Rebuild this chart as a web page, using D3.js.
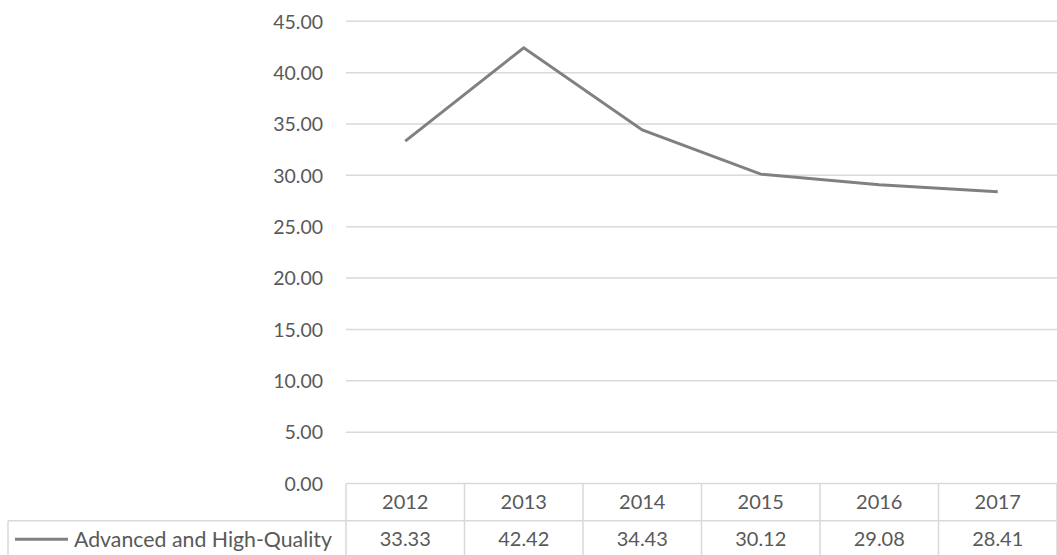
<!DOCTYPE html>
<html>
<head>
<meta charset="utf-8">
<script src="https://cdn.jsdelivr.net/npm/d3@7"></script>
<style>
  html, body { margin: 0; padding: 0; background: #fff; }
  svg { display: block; }
  text { font-family: Lato, "Open Sans", sans-serif; fill: #595959; }
</style>
</head>
<body>
<script>
// Series and labels
const years = ["2012", "2013", "2014", "2015", "2016", "2017"];
const seriesName = "Advanced and High-Quality";
const values = [33.33, 42.42, 34.43, 30.12, 29.08, 28.41];
const yTicks = [0, 5, 10, 15, 20, 25, 30, 35, 40, 45];

const W = 1057, H = 555;
const plotLeft = 346, plotRight = 1057, plotTop = 21.3, plotBottom = 483.5;
const rowH = 37.2;
const legendLeft = 8;

const svg = d3.select("body").append("svg")
  .attr("width", W).attr("height", H);

const x = d3.scaleBand().domain(years).range([plotLeft, plotRight]).paddingInner(0).paddingOuter(0);
const y = d3.scaleLinear().domain([0, 45]).range([plotBottom, plotTop]);

const fontSize = 20;
const gridColor = "#d9d9d9";

// Horizontal gridlines (the 0 line doubles as the table's top border)
svg.append("g").selectAll("line").data(yTicks).join("line")
  .attr("x1", plotLeft).attr("x2", plotRight)
  .attr("y1", d => y(d)).attr("y2", d => y(d))
  .attr("stroke", gridColor).attr("stroke-width", 1.5);

// Y axis labels
const yAxis = d3.axisLeft(y).tickValues(yTicks).tickFormat(d3.format(".2f")).tickSize(0).tickPadding(0);
const yG = svg.append("g").attr("transform", `translate(323,0)`).call(yAxis);
yG.select(".domain").remove();
yG.selectAll("text")
  .attr("font-size", 19.5)
  .attr("font-family", "Lato, 'Open Sans', sans-serif")
  .attr("fill", "#595959")
  .attr("dy", "0.35em");

// Data line
const line = d3.line()
  .x((d, i) => x(years[i]) + x.bandwidth() / 2)
  .y(d => y(d));
svg.append("path")
  .datum(values)
  .attr("d", line)
  .attr("fill", "none")
  .attr("stroke", "#808080")
  .attr("stroke-width", 3)
  .attr("stroke-linejoin", "miter");

// Data table
const table = svg.append("g");
const row1Bottom = plotBottom + rowH;
const row2Bottom = row1Bottom + rowH;

// Vertical cell borders
const edges = years.map(d => x(d)).concat([plotRight]);
table.selectAll("line.v").data(edges).join("line")
  .attr("class", "v")
  .attr("x1", d => d).attr("x2", d => d)
  .attr("y1", plotBottom).attr("y2", row2Bottom)
  .attr("stroke", gridColor).attr("stroke-width", 1.5);

// Legend cell left border
table.append("line")
  .attr("x1", legendLeft).attr("x2", legendLeft)
  .attr("y1", row1Bottom).attr("y2", row2Bottom)
  .attr("stroke", gridColor).attr("stroke-width", 1.5);

// Row separators
table.append("line")
  .attr("x1", legendLeft).attr("x2", plotRight)
  .attr("y1", row1Bottom).attr("y2", row1Bottom)
  .attr("stroke", gridColor).attr("stroke-width", 1.5);
table.append("line")
  .attr("x1", legendLeft).attr("x2", plotRight)
  .attr("y1", row2Bottom).attr("y2", row2Bottom)
  .attr("stroke", gridColor).attr("stroke-width", 1.5);

// Year headers
table.selectAll("text.year").data(years).join("text")
  .attr("class", "year")
  .attr("x", d => x(d) + x.bandwidth() / 2)
  .attr("y", (plotBottom + row1Bottom) / 2)
  .attr("dy", "0.35em")
  .attr("text-anchor", "middle")
  .attr("font-size", fontSize)
  .text(d => d);

// Values row
table.selectAll("text.val").data(values).join("text")
  .attr("class", "val")
  .attr("x", (d, i) => x(years[i]) + x.bandwidth() / 2)
  .attr("y", (row1Bottom + row2Bottom) / 2)
  .attr("dy", "0.35em")
  .attr("text-anchor", "middle")
  .attr("font-size", fontSize)
  .text(d => d3.format(".2f")(d));

// Legend key and series name
const legendY = (row1Bottom + row2Bottom) / 2;
table.append("line")
  .attr("x1", 15).attr("x2", 68)
  .attr("y1", legendY).attr("y2", legendY)
  .attr("stroke", "#808080").attr("stroke-width", 3);
table.append("text")
  .attr("x", 74)
  .attr("y", legendY)
  .attr("dy", "0.35em")
  .attr("font-size", 21.3)
  .text(seriesName);
</script>
</body>
</html>
